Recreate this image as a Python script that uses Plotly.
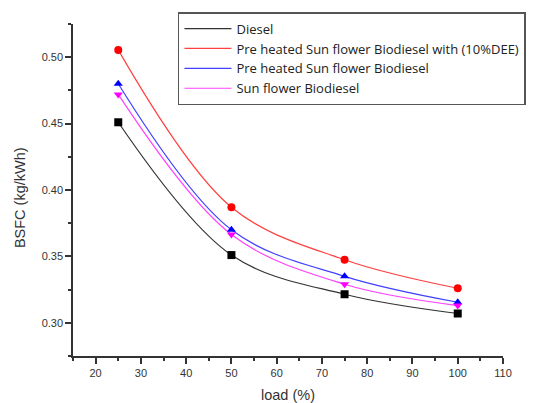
import plotly.graph_objects as go

load = [25, 50, 75, 100]
diesel = [0.451, 0.351, 0.3215, 0.307]
pre_dee = [0.5055, 0.387, 0.3475, 0.326]
pre_sun = [0.480, 0.370, 0.335, 0.3155]
sun = [0.472, 0.3665, 0.329, 0.313]

names = ["Diesel", "Pre heated Sun flower Biodiesel with (10%DEE)",
         "Pre heated Sun flower Biodiesel", "Sun flower Biodiesel"]
series = [diesel, pre_dee, pre_sun, sun]
line_colors = ["#333333", "#ff4040", "#4040ff", "#ff40ff"]
marker_colors = ["#000000", "#ff0000", "#0000ff", "#ff00ff"]
symbols = ["square", "circle", "triangle-up", "triangle-down"]

x_title = "load (%)"
y_title = "BSFC (kg/kWh)"

fig = go.Figure()
for n, s, lc, mc, sym in zip(names, series, line_colors, marker_colors, symbols):
    fig.add_trace(go.Scatter(x=load, y=s, mode="lines", name=n,
                             line=dict(color=lc, width=1.2, shape="spline", smoothing=1.0),
                             legendgroup=n))
for n, s, lc, mc, sym in zip(names, series, line_colors, marker_colors, symbols):
    fig.add_trace(go.Scatter(x=load, y=s, mode="markers", showlegend=False,
                             marker=dict(color=mc, symbol=sym, size=8),
                             legendgroup=n))

axis_common = dict(showline=True, linecolor="#333333", linewidth=1.5,
                   ticks="outside", ticklen=6, tickcolor="#333333", tickwidth=1.5,
                   showgrid=False, zeroline=False, automargin=False,
                   tickfont=dict(family="Liberation Sans, Arial", size=11, color="#333333"))

fig.update_xaxes(range=[15, 110], tick0=20, dtick=10,
                 minor=dict(ticks="outside", ticklen=3, dtick=5, tick0=15, tickcolor="#333333"),
                 **axis_common)
fig.update_yaxes(range=[0.275, 0.525], tick0=0.30, dtick=0.05, tickformat=".2f",
                 minor=dict(ticks="outside", ticklen=3, dtick=0.025, tick0=0.275, tickcolor="#333333"),
                 **axis_common)

title_font = dict(family="Liberation Sans, Arial", size=14.5, color="#333333")
fig.add_annotation(text=x_title, xref="paper", yref="paper", x=0.5, y=-0.1175,
                   xanchor="center", yanchor="middle", showarrow=False, font=title_font)
fig.add_annotation(text=y_title, xref="paper", yref="paper", x=-0.123, y=0.476,
                   xanchor="center", yanchor="middle", showarrow=False, textangle=-90,
                   font=title_font)

fig.update_layout(
    width=536, height=403,
    margin=dict(l=73, r=33, t=24, b=47, autoexpand=False),
    paper_bgcolor="white", plot_bgcolor="white",
    legend=dict(xref="container", yref="container", x=0.332, y=0.970,
                xanchor="left", yanchor="top",
                bordercolor="#555555", borderwidth=1.5, bgcolor="white",
                font=dict(family="Open Sans, Calibri", size=13, color="#222222"),
                tracegroupgap=0, itemwidth=47),
)

fig.write_html("out.html")
